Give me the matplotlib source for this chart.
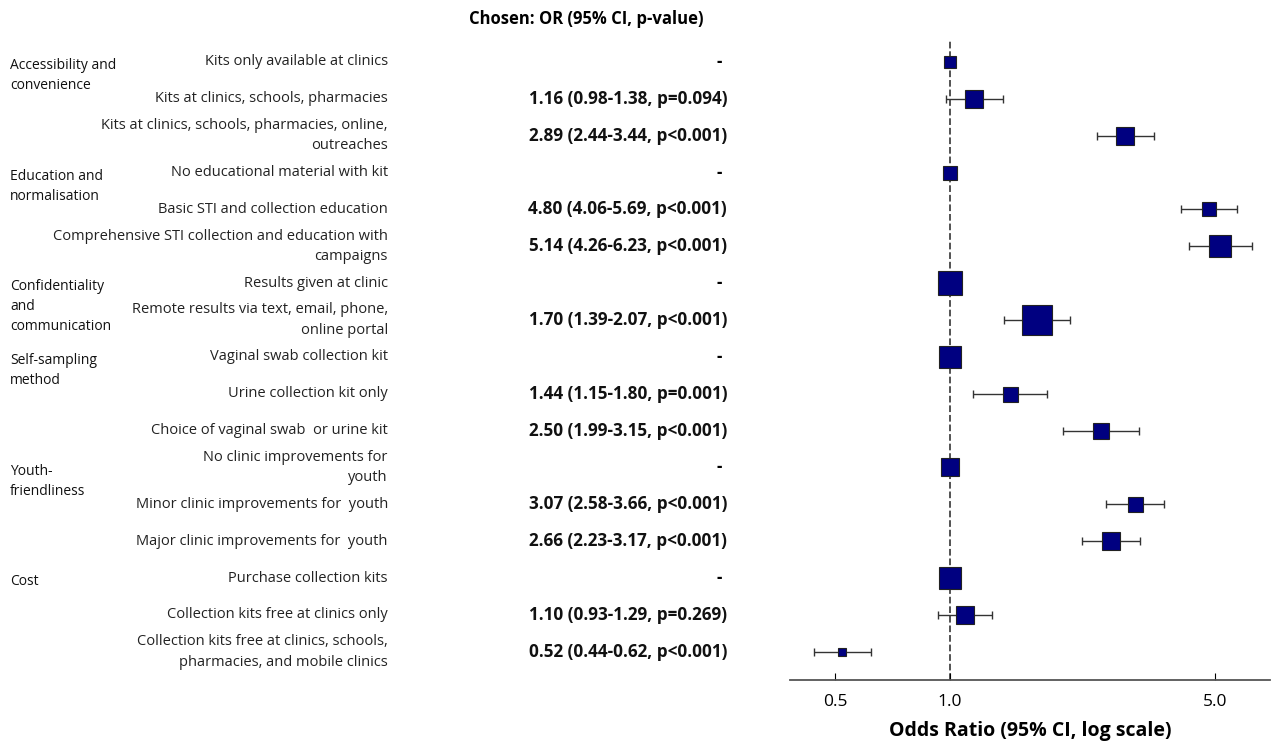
import numpy as np
import matplotlib.pyplot as plt
from matplotlib import transforms

plt.rcParams['font.family'] = ['Open Sans', 'DejaVu Sans']

labels = ["Kits only available at clinics",
          "Kits at clinics, schools, pharmacies",
          "Kits at clinics, schools, pharmacies, online,\noutreaches",
          "No educational material with kit",
          "Basic STI and collection education",
          "Comprehensive STI collection and education with\ncampaigns",
          "Results given at clinic",
          "Remote results via text, email, phone,\nonline portal",
          "Vaginal swab collection kit",
          "Urine collection kit only",
          "Choice of vaginal swab  or urine kit",
          "No clinic improvements for\nyouth",
          "Minor clinic improvements for  youth",
          "Major clinic improvements for  youth",
          "Purchase collection kits",
          "Collection kits free at clinics only",
          "Collection kits free at clinics, schools,\npharmacies, and mobile clinics"]
odds = [1.0, 1.16, 2.89, 1.0, 4.80, 5.14, 1.0, 1.70, 1.0, 1.44, 2.50, 1.0, 3.07, 2.66, 1.0, 1.10, 0.52]
lo = [np.nan, 0.98, 2.44, np.nan, 4.06, 4.26, np.nan, 1.39, np.nan, 1.15, 1.99, np.nan, 2.58, 2.23, np.nan, 0.93, 0.44]
hi = [np.nan, 1.38, 3.44, np.nan, 5.69, 6.23, np.nan, 2.07, np.nan, 1.80, 3.15, np.nan, 3.66, 3.17, np.nan, 1.29, 0.62]
pvals = ["", "p=0.094", "p<0.001", "", "p<0.001", "p<0.001", "", "p<0.001", "", "p=0.001",
         "p<0.001", "", "p<0.001", "p<0.001", "", "p=0.269", "p<0.001"]
weights = [12, 18, 18, 14, 14, 22, 24, 30, 22, 15, 16, 18, 15, 18, 22, 18, 8]
groups = ["Accessibility and\nconvenience", "Education and\nnormalisation",
          "Confidentiality\nand\ncommunication", "Self-sampling\nmethod",
          "Youth-\nfriendliness", "Cost"]
group_rows = [0, 3, 6, 8, 11, 14]

fig = plt.figure(figsize=(12.8, 7.52), dpi=100)
ax = fig.add_axes([0.617, 0.096, 0.375, 0.851])
n = len(odds)
y = np.arange(n)

ax.axvline(1.0, color='#444444', ls='--', lw=1.3, zorder=1)
for i in range(n):
    if not np.isnan(lo[i]):
        ax.errorbar(odds[i], y[i], xerr=[[odds[i] - lo[i]], [hi[i] - odds[i]]],
                    fmt='none', ecolor='#333333', elinewidth=1, capsize=3, zorder=2)
    # weights are in pixels, ms wants points
    ax.plot(odds[i], y[i], marker='s', ms=weights[i] * 0.72, color='#000080',
            mec='#222222', mew=0.8, zorder=3)

ax.set_xscale('log')
ax.set_xlim(0.38, 6.95)
ax.set_ylim(n - 0.24, -0.6)
ax.set_xticks([0.5, 1.0, 5.0])
ax.set_xticklabels(['0.5', '1.0', '5.0'], fontsize=12.5)
ax.minorticks_off()
ax.tick_params(axis='x', length=5, direction='in', pad=10)
ax.set_yticks([])
for s in ['top', 'left', 'right']:
    ax.spines[s].set_visible(False)
ax.spines['bottom'].set_color('#555555')
ax.spines['bottom'].set_linewidth(1.3)
ax.set_xlabel('Odds Ratio (95% CI, log scale)', fontsize=14, fontweight='bold', labelpad=8)

tr = transforms.blended_transform_factory(fig.transFigure, ax.transData)
for i in range(n):
    ax.text(0.303, y[i], labels[i], transform=tr, ha='right', va='center',
            fontsize=10.5, color='#222222', multialignment='right', linespacing=1.5)
    if np.isnan(lo[i]):
        ax.text(0.562, y[i], '-', transform=tr, ha='center', va='center',
                fontsize=12, fontweight='bold')
    else:
        s = f"{odds[i]:.2f} ({lo[i]:.2f}-{hi[i]:.2f}, {pvals[i]})"
        ax.text(0.568, y[i], s, transform=tr, ha='right', va='center',
                fontsize=12.3, fontweight='bold', color='#111111')
for g, r in zip(groups, group_rows):
    ax.text(0.008, r - 0.1, g, transform=tr, ha='left', va='top',
            fontsize=10, color='#111111', linespacing=1.45)

fig.text(0.458, 0.975, 'Chosen: OR (95% CI, p-value)', ha='center', va='center',
         fontsize=12, fontweight='bold')

fig.savefig('out.png', dpi=100)
